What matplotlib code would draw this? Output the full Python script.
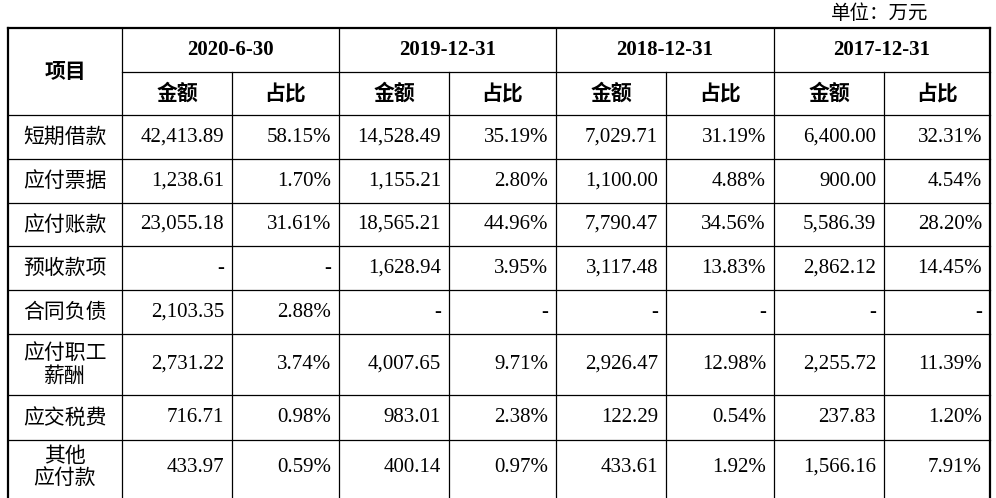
import matplotlib.pyplot as plt

# data
items = ["短期借款", "应付票据", "应付账款", "预收款项", "合同负债", "应付职工\n薪酬", "应交税费", "其他\n应付款"]
periods = ["2020-6-30", "2019-12-31", "2018-12-31", "2017-12-31"]
amt_2020 = ["42,413.89", "1,238.61", "23,055.18", "-", "2,103.35", "2,731.22", "716.71", "433.97"]
pct_2020 = ["58.15%", "1.70%", "31.61%", "-", "2.88%", "3.74%", "0.98%", "0.59%"]
amt_2019 = ["14,528.49", "1,155.21", "18,565.21", "1,628.94", "-", "4,007.65", "983.01", "400.14"]
pct_2019 = ["35.19%", "2.80%", "44.96%", "3.95%", "-", "9.71%", "2.38%", "0.97%"]
amt_2018 = ["7,029.71", "1,100.00", "7,790.47", "3,117.48", "-", "2,926.47", "122.29", "433.61"]
pct_2018 = ["31.19%", "4.88%", "34.56%", "13.83%", "-", "12.98%", "0.54%", "1.92%"]
amt_2017 = ["6,400.00", "900.00", "5,586.39", "2,862.12", "-", "2,255.72", "237.83", "1,566.16"]
pct_2017 = ["32.31%", "4.54%", "28.20%", "14.45%", "-", "11.39%", "1.20%", "7.91%"]
columns = [amt_2020, pct_2020, amt_2019, pct_2019, amt_2018, pct_2018, amt_2017, pct_2017]

# layout (pixels)
xs = [8, 122, 232, 339, 449, 556, 666, 774, 884, 990]
ys = [28, 72, 115, 159, 203, 246, 290, 334, 395, 440, 500]

CJK = "Noto Sans CJK SC"
NUM = "Liberation Serif"

fig = plt.figure(figsize=(9.96, 4.98), dpi=100)
ax = fig.add_axes([0, 0, 1, 1])
ax.set_xlim(0, 996)
ax.set_ylim(498, 0)
ax.axis("off")

# grid lines
for i, y in enumerate(ys[:-1]):
    lw = 1.6 if i == 0 else 0.9
    x0 = xs[0] if i != 1 else xs[1]
    ax.plot([x0, xs[-1]], [y, y], color="black", lw=lw)
for i, x in enumerate(xs):
    lw = 1.6 if i in (0, len(xs) - 1) else 0.9
    if i in (2, 4, 6, 8):
        ax.plot([x, x], [ys[1], ys[-1]], color="black", lw=lw)
    else:
        ax.plot([x, x], [ys[0], ys[-1]], color="black", lw=lw)

ax.text(880, 13, "单位：万元", fontfamily=CJK, fontsize=14, ha="center", va="center")

# header
ax.text((xs[0] + xs[1]) / 2, (ys[0] + ys[2]) / 2, "项目", fontfamily=CJK,
        fontsize=15, fontweight="bold", ha="center", va="center")
for k, p in enumerate(periods):
    cx = (xs[1 + 2 * k] + xs[3 + 2 * k]) / 2
    ax.text(cx, (ys[0] + ys[1]) / 2, p, fontfamily=NUM, fontsize=15,
            fontweight="bold", ha="center", va="center")
    for j, lab in enumerate(["金额", "占比"]):
        c = 1 + 2 * k + j
        ax.text((xs[c] + xs[c + 1]) / 2, (ys[1] + ys[2]) / 2, lab, fontfamily=CJK,
                fontsize=15, fontweight="bold", ha="center", va="center")

# body
for r, item in enumerate(items):
    cy = (ys[r + 2] + ys[r + 3]) / 2
    if r == len(items) - 1:
        cy = 467
    ax.text((xs[0] + xs[1]) / 2, cy, item, fontfamily=CJK, fontsize=15,
            ha="center", va="center", linespacing=1.05)
    for c, col in enumerate(columns):
        ax.text(xs[c + 2] - 8, cy, col[r], fontfamily=NUM, fontsize=15,
                ha="right", va="center")

fig.savefig("out.png", dpi=100)
